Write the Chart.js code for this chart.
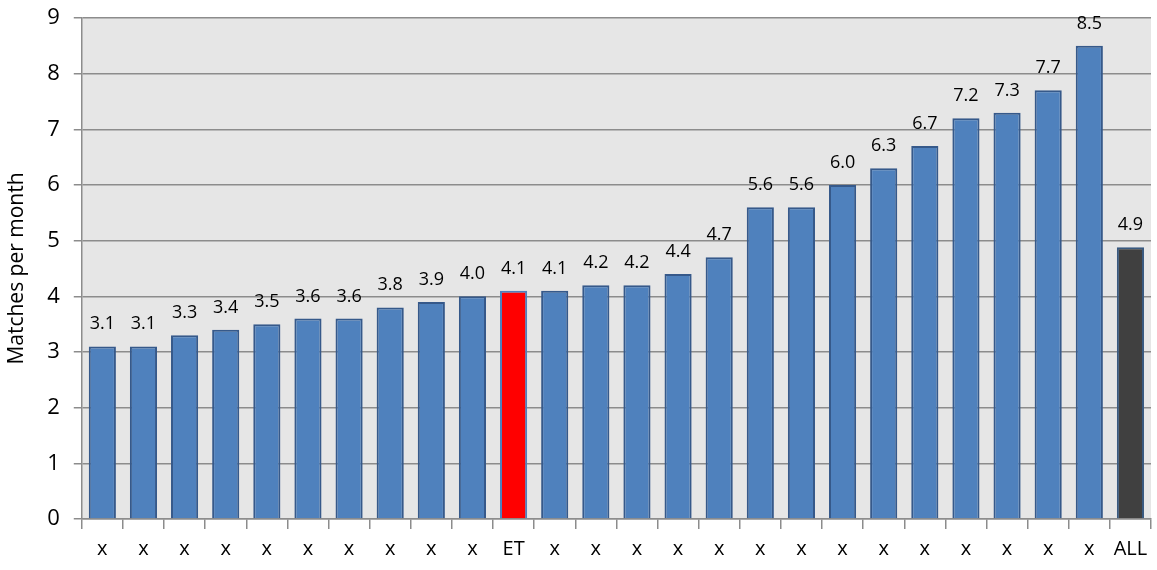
<!DOCTYPE html>
<html>
<head>
<meta charset="utf-8">
<script src="https://cdn.jsdelivr.net/npm/chart.js@4/dist/chart.umd.min.js"></script>
<style>
  html, body { margin: 0; padding: 0; background: #fff; }
  #wrap { width: 1157px; height: 570px; }
</style>
</head>
<body>
<div id="wrap"><canvas id="graphCanvas"></canvas></div>
<script>
// categories and values
var labels = ["x","x","x","x","x","x","x","x","x","x","ET","x","x","x","x","x","x","x","x","x","x","x","x","x","x","ALL"];
var matches = [3.1,3.1,3.3,3.4,3.5,3.6,3.6,3.8,3.9,4.0,4.1,4.1,4.2,4.2,4.4,4.7,5.6,5.6,6.0,6.3,6.7,7.2,7.3,7.7,8.5,4.88];
var yTicks = [0,1,2,3,4,5,6,7,8,9];

var barColors = labels.map(function (l) {
  if (l == "ET") return "#ff0000";
  if (l == "ALL") return "#404040";
  return "#4f81bd";
});
var borderColors = labels.map(function (l) {
  if (l == "ET") return "#4f81bd";
  if (l == "ALL") return "#3a5a80";
  return "#36598a";
});

var plotBg = {
  id: 'plotBg',
  beforeDraw: function (chart) {
    var a = chart.chartArea, ctx = chart.ctx;
    ctx.save();
    ctx.fillStyle = '#e6e6e6';
    ctx.fillRect(a.left, a.top, a.right - a.left, a.bottom - a.top);
    ctx.restore();
  }
};

var valueLabels = {
  id: 'valueLabels',
  afterDatasetsDraw: function (chart) {
    var ctx = chart.ctx;
    var meta = chart.getDatasetMeta(0);
    ctx.save();
    ctx.font = '18px "Open Sans", sans-serif';
    ctx.fillStyle = '#000';
    ctx.textAlign = 'center';
    ctx.textBaseline = 'alphabetic';
    meta.data.forEach(function (bar, i) {
      ctx.fillText(matches[i].toFixed(1), bar.x, bar.y - 17);
    });
    ctx.restore();
  }
};

var graphTarget = document.getElementById("graphCanvas");
var barGraph = new Chart(graphTarget, {
  type: 'bar',
  data: {
    labels: labels,
    datasets: [{
      data: matches,
      backgroundColor: barColors,
      borderColor: borderColors,
      borderWidth: 2,
      barPercentage: 0.66,
      categoryPercentage: 1.0
    }]
  },
  options: {
    responsive: true,
    maintainAspectRatio: false,
    animation: false,
    layout: { padding: { top: 18, right: 6, left: 4, bottom: 1 } },
    plugins: {
      legend: { display: false },
      tooltip: { enabled: false }
    },
    scales: {
      x: {
        grid: {
          offset: true,
          drawOnChartArea: false,
          color: '#8c8c8c',
          lineWidth: 1.5,
          tickLength: 10
        },
        border: { color: '#8c8c8c', width: 1.5 },
        ticks: {
          color: '#000',
          font: { size: 20, family: '"Open Sans", sans-serif' },
          padding: 8,
          maxRotation: 0,
          autoSkip: false
        }
      },
      y: {
        min: 0,
        max: 9,
        afterBuildTicks: function (axis) {
          axis.ticks = yTicks.map(function (v) { return { value: v }; });
        },
        afterFit: function (axis) {
          // let the layout padding alone decide the top of the plot
          axis.paddingTop = 0;
          axis.paddingBottom = 0;
        },
        grid: {
          color: '#8c8c8c',
          lineWidth: 1.5,
          tickLength: 8
        },
        border: { color: '#8c8c8c', width: 1.5 },
        ticks: {
          color: '#000',
          font: { size: 22, family: '"Open Sans", sans-serif' },
          padding: 14
        },
        title: {
          display: true,
          text: 'Matches per month',
          color: '#000',
          font: { size: 21, family: '"Open Sans", sans-serif' },
          padding: { top: 0, bottom: 4 }
        }
      }
    }
  },
  plugins: [plotBg, valueLabels]
});
</script>
</body>
</html>
